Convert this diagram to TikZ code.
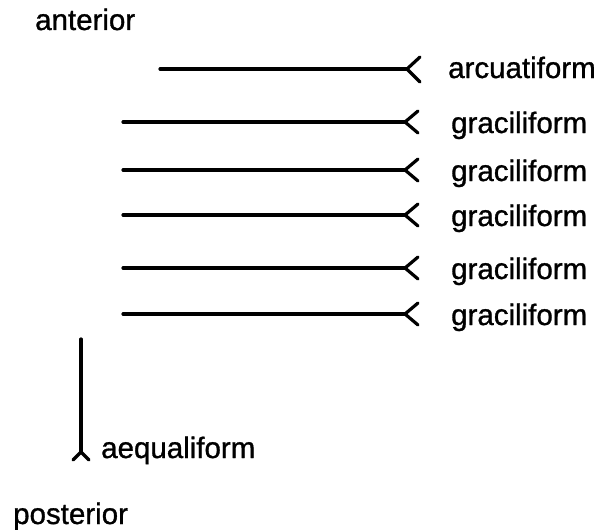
\documentclass[tikz,border=0pt]{standalone}
\usepackage{fontspec}
\setmainfont{Liberation Sans}[FakeBold=1]
\tikzset{
	stem/.style={line width=3.2pt, line cap=round, line join=round},
	lbl/.style={inner sep=0pt, anchor=base west, font=\fontsize{29.5pt}{35pt}\selectfont}
}
\begin{document}
\begin{tikzpicture}[x=1pt,y=-1pt]
\useasboundingbox (0,0) rectangle (603,530);

\node[lbl] (ant) at (35,30) {anterior};
\node[lbl] (post) at (13,524) {posterior};

% arcuatiform
\coordinate (s0) at (160,69);
\coordinate (j0) at (407,69);
\node[lbl] (l0) at (448,78) {arcuatiform};
\draw[stem] (s0) -- (j0);
\draw[stem] (j0) ++(13,-12) -- (j0) -- ++(13,13);

% graciliform rows
\foreach \n/\y in {1/122,2/170,3/215,4/268,5/314}
{
	\coordinate (s\n) at (123,\y);
	\coordinate (j\n) at (405,\y);
	\node[lbl] (l\n) at (451,\y+11) {graciliform};
	\draw[stem] (s\n) -- (j\n);
	\draw[stem] (j\n) ++(13,-11) -- (j\n) -- ++(13,11);
}

% aequaliform
\coordinate (top) at (81,339);
\coordinate (jv) at (81,452);
\node[lbl] (aeq) at (101,458) {aequaliform};
\draw[stem] (top) -- (jv);
\draw[stem] (jv) ++(-8,8) -- (jv) -- ++(8,8);
\end{tikzpicture}
\end{document}
